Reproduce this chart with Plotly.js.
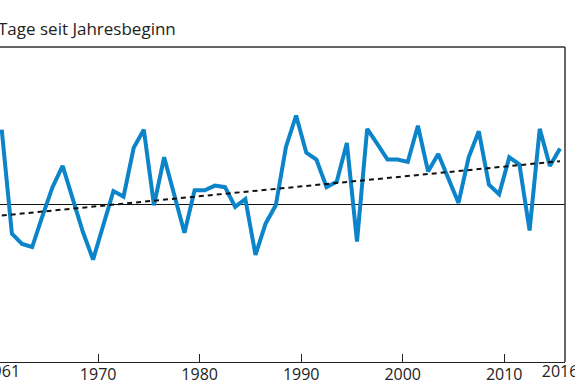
<!DOCTYPE html>
<html>
<head>
<meta charset="utf-8">
<script src="https://cdn.plot.ly/plotly-3.0.1.min.js"></script>
<style>html,body{margin:0;padding:0;background:#fff;}#chart{width:575px;height:383px;}</style>
</head>
<body>
<div id="chart"></div>
<script>
const years = [1961,1962,1963,1964,1965,1966,1967,1968,1969,1970,
  1971,1972,1973,1974,1975,1976,1977,1978,1979,1980,
  1981,1982,1983,1984,1985,1986,1987,1988,1989,1990,
  1991,1992,1993,1994,1995,1996,1997,1998,1999,2000,
  2001,2002,2003,2004,2005,2006,2007,2008,2009,2010,
  2011,2012,2013,2014,2015,2016];
const days = [129.5,116.3,115.0,114.6,118.5,122.2,124.9,120.7,116.5,113.0,
  117.4,121.7,121.0,127.2,129.5,119.9,126.0,121.2,116.4,121.8,
  121.8,122.4,122.2,119.7,120.7,113.6,117.6,119.9,127.3,131.3,
  126.6,125.7,122.2,122.9,127.8,115.3,129.6,127.7,125.7,125.7,
  125.4,130.0,124.2,126.4,123.4,120.2,126.0,129.3,122.5,121.3,
  126.0,125.1,116.7,129.6,124.9,127.1];
const trendYears = [1961, 2016];
const trendDays = [118.6, 125.5];
const meanDays = 120;
const tickYears = [1970.5, 1980.5, 1990.5, 2000.5, 2010.5];
const tickLabels = ["1970", "1980", "1990", "2000", "2010"];
const endYears = [1961, 2016];
const endLabels = ["1961", "2016"];
const titleText = "Tage seit Jahresbeginn";

const font = {family: "Open Sans, sans-serif", size: 16, color: "#222"};
const titleFont = {family: "Open Sans, sans-serif", size: 17, color: "#222"};
const xr = [1960.83, 2016.49];

const traces = [
  {x: trendYears, y: trendDays, type: "scatter", mode: "lines", xaxis: "x2",
   line: {color: "#111", width: 2, dash: "5px,4px"}, hoverinfo: "skip"},
  {x: years, y: days, type: "scatter", mode: "lines",
   line: {color: "#0b84c9", width: 4, shape: "linear"}, hoverinfo: "skip"}
];

const layout = {
  width: 575, height: 383,
  margin: {l: 0, r: 10, t: 47, b: 21, pad: 0},
  paper_bgcolor: "#fff", plot_bgcolor: "#fff",
  showlegend: false,
  font: font,
  xaxis: {range: xr, tickvals: tickYears, ticktext: tickLabels, ticks: "inside",
    ticklen: 8, tickwidth: 1, tickcolor: "#222", showline: true, linecolor: "#222",
    linewidth: 1, showgrid: false, zeroline: false, tickfont: font, fixedrange: true,
    ticklabelstandoff: -2, ticklabeloverflow: "allow"},
  xaxis2: {range: xr, overlaying: "x", side: "bottom", tickvals: endYears, ticktext: endLabels,
    ticks: "", showline: false, showgrid: false, zeroline: false, tickfont: font,
    anchor: "y", fixedrange: true, ticklabelstandoff: -2, ticklabeloverflow: "allow"},
  yaxis: {range: [100, 140], showticklabels: false, ticks: "", showgrid: false,
    zeroline: false, showline: false, fixedrange: true},
  shapes: [
    {type: "line", xref: "paper", yref: "y", x0: 0, x1: 1, y0: meanDays, y1: meanDays,
     line: {color: "#111", width: 1}, layer: "below"},
    {type: "line", xref: "paper", yref: "paper", x0: 0, x1: 1, y0: 1, y1: 1,
     line: {color: "#333", width: 1.5}},
    {type: "line", xref: "paper", yref: "paper", x0: 1, x1: 1, y0: 0, y1: 1,
     line: {color: "#333", width: 1.5}}
  ],
  annotations: [
    {text: titleText, xref: "paper", yref: "paper", x: 0, y: 1, xanchor: "left",
     yanchor: "bottom", xshift: -4, yshift: 5, showarrow: false, font: titleFont}
  ]
};

Plotly.newPlot("chart", traces, layout, {staticPlot: true, displayModeBar: false});
</script>
</body>
</html>
